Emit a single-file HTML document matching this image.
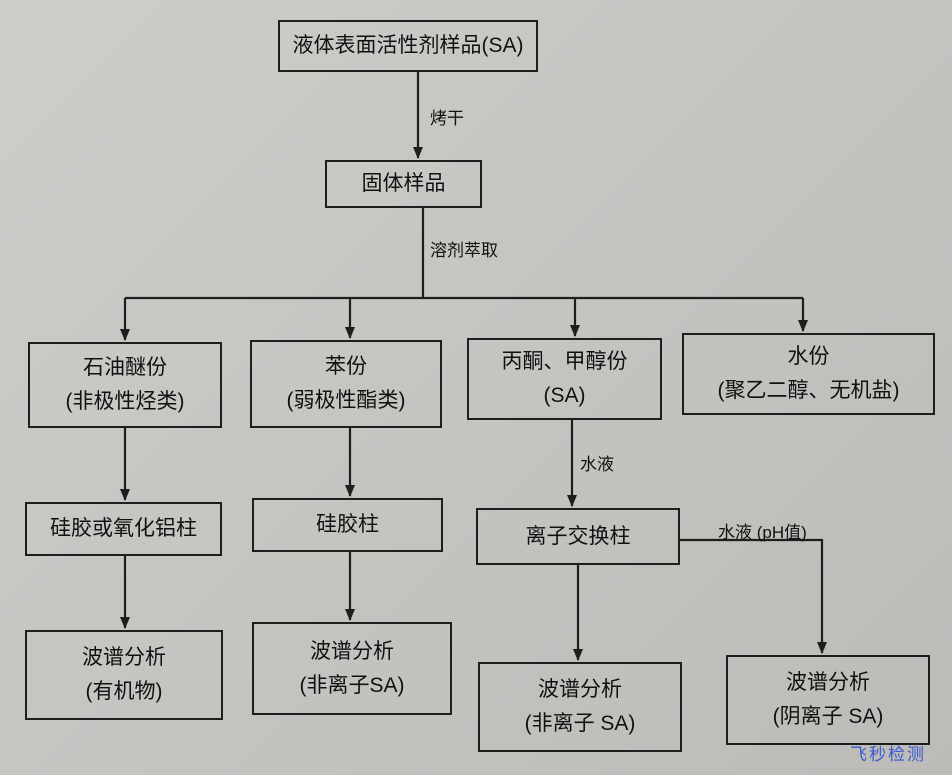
<!DOCTYPE html>
<html><head><meta charset="utf-8"><style>
body{margin:0;width:952px;height:775px;overflow:hidden;background:linear-gradient(135deg,#cfcdca 0%,#c6c4c1 50%,#bdbbb8 100%);font-family:"Liberation Sans","Noto Sans CJK SC",sans-serif;color:#111;position:relative}
.b{position:absolute;border:2px solid #1e1e1e;box-sizing:border-box;display:flex;flex-direction:column;justify-content:center;align-items:center;font-size:21px;line-height:34px;text-align:center}
.l{position:absolute;font-size:17px}
svg{position:absolute;left:0;top:0}
</style></head><body>
<svg width="952" height="775">
<defs><marker id="a" markerWidth="12" markerHeight="12" refX="11" refY="6" orient="auto" markerUnits="userSpaceOnUse"><path d="M0,1 L12,6 L0,11 z" fill="#1e1e1e"/></marker></defs>
<g stroke="#1e1e1e" stroke-width="2.2" fill="none">
<line x1="418" y1="72" x2="418" y2="158" marker-end="url(#a)"/>
<line x1="423" y1="208" x2="423" y2="298"/>
<line x1="125" y1="298" x2="803" y2="298"/>
<line x1="125" y1="298" x2="125" y2="340" marker-end="url(#a)"/>
<line x1="350" y1="298" x2="350" y2="338" marker-end="url(#a)"/>
<line x1="575" y1="298" x2="575" y2="336" marker-end="url(#a)"/>
<line x1="803" y1="298" x2="803" y2="331" marker-end="url(#a)"/>
<line x1="125" y1="428" x2="125" y2="500" marker-end="url(#a)"/>
<line x1="350" y1="428" x2="350" y2="496" marker-end="url(#a)"/>
<line x1="572" y1="420" x2="572" y2="506" marker-end="url(#a)"/>
<polyline points="680,540 822,540 822,653" marker-end="url(#a)"/>
<line x1="125" y1="556" x2="125" y2="628" marker-end="url(#a)"/>
<line x1="350" y1="552" x2="350" y2="620" marker-end="url(#a)"/>
<line x1="578" y1="565" x2="578" y2="660" marker-end="url(#a)"/>
</g></svg>
<div class="b" style="left:278px;top:20px;width:260px;height:52px">液体表面活性剂样品(SA)</div>
<div class="l" style="left:430px;top:104px">烤干</div>
<div class="b" style="left:325px;top:160px;width:157px;height:48px">固体样品</div>
<div class="l" style="left:430px;top:236px">溶剂萃取</div>
<div class="b" style="left:28px;top:342px;width:194px;height:86px"><div>石油醚份</div><div>(非极性烃类)</div></div>
<div class="b" style="left:250px;top:340px;width:192px;height:88px"><div>苯份</div><div>(弱极性酯类)</div></div>
<div class="b" style="left:467px;top:338px;width:195px;height:82px"><div>丙酮、甲醇份</div><div>(SA)</div></div>
<div class="b" style="left:682px;top:333px;width:253px;height:82px"><div>水份</div><div>(聚乙二醇、无机盐)</div></div>
<div class="l" style="left:580px;top:450px">水液</div>
<div class="b" style="left:25px;top:502px;width:197px;height:54px">硅胶或氧化铝柱</div>
<div class="b" style="left:252px;top:498px;width:191px;height:54px">硅胶柱</div>
<div class="b" style="left:476px;top:508px;width:204px;height:57px">离子交换柱</div>
<div class="l" style="left:718px;top:518px">水液 (pH值)</div>
<div class="b" style="left:25px;top:630px;width:198px;height:90px"><div>波谱分析</div><div>(有机物)</div></div>
<div class="b" style="left:252px;top:622px;width:200px;height:93px"><div>波谱分析</div><div>(非离子SA)</div></div>
<div class="b" style="left:478px;top:662px;width:204px;height:90px"><div>波谱分析</div><div>(非离子 SA)</div></div>
<div class="b" style="left:726px;top:655px;width:204px;height:90px"><div>波谱分析</div><div>(阴离子 SA)</div></div>
<div class="l" style="left:850px;top:740px;color:#3a5bd0;font-size:17px;letter-spacing:2px">飞秒检测</div>
</body></html>
